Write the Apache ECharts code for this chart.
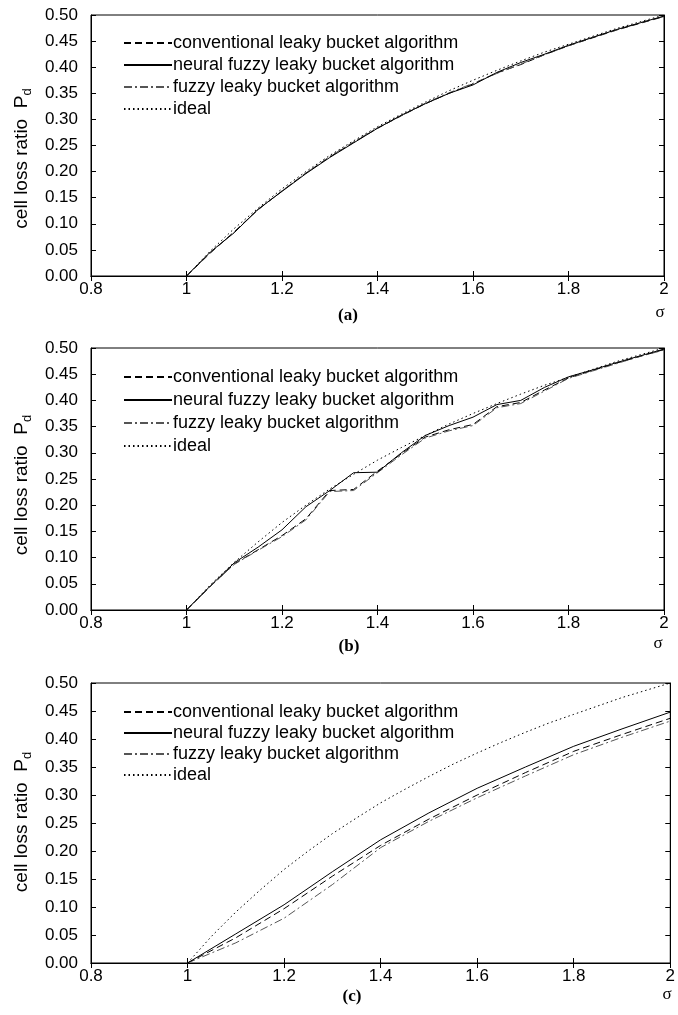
<!DOCTYPE html>
<html>
<head>
<meta charset="utf-8">
<script src="https://cdn.jsdelivr.net/npm/echarts@6/dist/echarts.min.js"></script>
<style>
html,body{margin:0;padding:0;background:#fff;}
#chart{width:678px;height:1015px;}
</style>
</head>
<body>
<div id="chart"></div>
<script>
// ---- data ----
const seriesNames = ['conventional leaky bucket algorithm', 'neural fuzzy leaky bucket algorithm', 'fuzzy leaky bucket algorithm', 'ideal'];
const panelLabels = ['(a)', '(b)', '(c)'];
const xAxisName = 'σ';
const yAxisTitle = 'cell loss ratio  P';
const yAxisSub = 'd';

const sigmaFine = [1.00, 1.05, 1.10, 1.15, 1.20, 1.25, 1.30, 1.35, 1.40, 1.45, 1.50, 1.55, 1.60, 1.65, 1.70, 1.75, 1.80, 1.85, 1.90, 1.95, 2.00];
const idealPd   = [0, 0.048, 0.091, 0.130, 0.167, 0.200, 0.231, 0.259, 0.286, 0.310, 0.333, 0.355, 0.375, 0.394, 0.412, 0.429, 0.444, 0.459, 0.474, 0.487, 0.500];

// panel (a)
const convA   = [0, 0.044, 0.085, 0.127, 0.163, 0.197, 0.228, 0.256, 0.283, 0.307, 0.330, 0.350, 0.368, 0.389, 0.405, 0.424, 0.441, 0.456, 0.471, 0.484, 0.497];
const neuralA = [0, 0.046, 0.083, 0.128, 0.162, 0.196, 0.227, 0.255, 0.283, 0.308, 0.330, 0.350, 0.366, 0.390, 0.409, 0.425, 0.442, 0.457, 0.472, 0.485, 0.498];
const fuzzyA  = [0, 0.045, 0.084, 0.127, 0.163, 0.197, 0.229, 0.257, 0.284, 0.307, 0.331, 0.351, 0.369, 0.388, 0.406, 0.424, 0.441, 0.457, 0.471, 0.485, 0.497];

// panel (b)
const convB   = [0, 0.045, 0.088, 0.115, 0.142, 0.174, 0.228, 0.230, 0.265, 0.298, 0.330, 0.344, 0.354, 0.388, 0.396, 0.420, 0.443, 0.457, 0.471, 0.484, 0.497];
const neuralB = [0, 0.046, 0.090, 0.120, 0.153, 0.197, 0.228, 0.262, 0.263, 0.300, 0.333, 0.352, 0.368, 0.392, 0.400, 0.425, 0.445, 0.458, 0.472, 0.485, 0.498];
const fuzzyB  = [0, 0.045, 0.087, 0.114, 0.140, 0.172, 0.226, 0.228, 0.262, 0.296, 0.328, 0.342, 0.352, 0.386, 0.394, 0.418, 0.442, 0.456, 0.470, 0.484, 0.496];

// panel (c)
const sigmaC  = [1.0, 1.1, 1.2, 1.3, 1.4, 1.5, 1.6, 1.7, 1.8, 1.9, 2.0];
const convC   = [0, 0.045, 0.097, 0.155, 0.210, 0.257, 0.300, 0.340, 0.378, 0.408, 0.437];
const neuralC = [0, 0.052, 0.104, 0.163, 0.220, 0.268, 0.312, 0.350, 0.387, 0.418, 0.448];
const fuzzyC  = [0, 0.036, 0.080, 0.140, 0.206, 0.253, 0.295, 0.334, 0.372, 0.403, 0.432];

// ---- layout / styles ----
const FONT = '"Liberation Sans", Arial, sans-serif';
const SERIF = '"Liberation Serif", "Times New Roman", serif';
const grids = [
  {left: 91, top: 15,  width: 573, height: 261},
  {left: 91, top: 348, width: 573, height: 262},
  {left: 91, top: 683, width: 580, height: 280}
];
const legendTops = [29, 363, 698];
const legendGaps = [4, 5, 3];
const namePads = [[0, 26, 0, 0], [0, 12, 0, 0], [0, 0, 0, 2]];
const labelPos = [[348, 316], [349, 647], [352, 997]];
const sigmaPos = [[660, 313], [658, 644], [667, 995]];

const styles = [
  {color: '#000', width: 1, type: [7, 4]},
  {color: '#000', width: 1, type: 'solid'},
  {color: '#555', width: 1, type: [8, 3, 2, 3]},
  {color: '#000', width: 1, type: [1.5, 3]}
];

const zip = (xs, ys) => xs.map((x, i) => [x, ys[i]]);
const panels = [
  [zip(sigmaFine, convA), zip(sigmaFine, neuralA), zip(sigmaFine, fuzzyA), zip(sigmaFine, idealPd)],
  [zip(sigmaFine, convB), zip(sigmaFine, neuralB), zip(sigmaFine, fuzzyB), zip(sigmaFine, idealPd)],
  [zip(sigmaC, convC),    zip(sigmaC, neuralC),    zip(sigmaC, fuzzyC),    zip(sigmaFine, idealPd)]
];

const xAxes = [], yAxes = [], series = [], legends = [], graphics = [];
grids.forEach((g, p) => {
  const xb = xAxes.length;
  xAxes.push({
    gridIndex: p, type: 'value', min: 0.8, max: 2, interval: 0.2, position: 'bottom',
    axisLine: {show: true, lineStyle: {color: '#000', width: 1}},
    axisTick: {show: true, inside: true, length: 5, lineStyle: {color: '#000'}},
    axisLabel: {color: '#000', fontFamily: FONT, fontSize: 17, margin: 5,
      formatter: v => String(+v.toFixed(1))},
    splitLine: {show: false}
  });
  xAxes.push({
    gridIndex: p, type: 'value', min: 0.8, max: 2, interval: 0.2, position: 'top',
    axisLine: {show: true, lineStyle: {color: '#000', width: 1}},
    axisTick: {show: true, inside: true, length: 5, lineStyle: {color: '#000'}},
    axisLabel: {show: false}, splitLine: {show: false}
  });
  const yb = yAxes.length;
  yAxes.push({
    gridIndex: p, type: 'value', min: 0, max: 0.5, interval: 0.05, position: 'left',
    axisLine: {show: true, lineStyle: {color: '#000', width: 1}},
    axisTick: {show: true, inside: true, length: 5, lineStyle: {color: '#000'}},
    axisLabel: {color: '#000', fontFamily: FONT, fontSize: 17, margin: 13,
      formatter: v => v.toFixed(2)},
    splitLine: {show: false},
    name: '{t|' + yAxisTitle + '}{s|' + yAxisSub + '}',
    nameLocation: 'middle', nameRotate: 90, nameGap: 51,
    nameTextStyle: {
      color: '#000', fontFamily: FONT,
      rich: {
        t: {fontSize: 19, fontFamily: FONT, color: '#000', padding: [0, 0, 0, namePads[p][3]]},
        s: {fontSize: 13, fontFamily: FONT, color: '#000', verticalAlign: 'top', padding: [12, namePads[p][1], 0, 0]}
      }
    }
  });
  yAxes.push({
    gridIndex: p, type: 'value', min: 0, max: 0.5, interval: 0.05, position: 'right',
    axisLine: {show: true, lineStyle: {color: '#000', width: 1}},
    axisTick: {show: true, inside: true, length: 5, lineStyle: {color: '#000'}},
    axisLabel: {show: false}, splitLine: {show: false}
  });
  panels[p].forEach((d, k) => {
    series.push({
      type: 'line', name: seriesNames[k], xAxisIndex: xb, yAxisIndex: yb,
      data: d, showSymbol: false, symbol: 'none', smooth: false, silent: true,
      color: styles[k].color,
      lineStyle: {color: styles[k].color, width: styles[k].width, type: styles[k].type},
      z: k === 1 ? 4 : 3
    });
  });
  legends.push({
    show: true, orient: 'vertical', left: 118, top: legendTops[p],
    itemWidth: 48, itemHeight: 14, itemGap: legendGaps[p],
    data: seriesNames, selectedMode: false,
    itemStyle: {opacity: 0},
    textStyle: {color: '#000', fontFamily: FONT, fontSize: 18, padding: [0, 0, 0, -4]}
  });
  graphics.push({
    type: 'text', x: labelPos[p][0], y: labelPos[p][1],
    style: {text: panelLabels[p], font: 'bold 17px ' + SERIF, fill: '#000', align: 'center', verticalAlign: 'middle'}
  });
  graphics.push({
    type: 'text', x: sigmaPos[p][0], y: sigmaPos[p][1],
    style: {text: xAxisName, font: '17px ' + SERIF, fill: '#000', align: 'center', verticalAlign: 'middle'}
  });
});

const grid = grids.map(g => Object.assign({show: true, borderColor: '#000', borderWidth: 1, backgroundColor: 'transparent'}, g));

const chart = echarts.init(document.getElementById('chart'), null, {renderer: 'canvas'});
chart.setOption({
  backgroundColor: '#fff',
  animation: false,
  grid: grid,
  xAxis: xAxes,
  yAxis: yAxes,
  legend: legends,
  series: series,
  graphic: graphics
});
</script>
</body>
</html>
